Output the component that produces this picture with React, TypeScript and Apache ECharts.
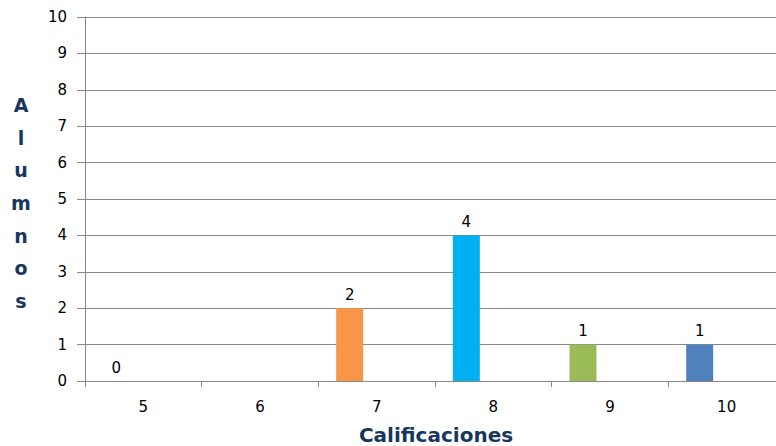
import React, { useEffect, useRef } from "react";
import * as echarts from "echarts";

const categories = ["5", "6", "7", "8", "9", "10"];
const alumnos: (number | null)[] = [0, null, 2, 4, 1, 1];
const barColors = ["#4F81BD", "#C0504D", "#F79646", "#00B0F0", "#9BBB59", "#4F81BD"];
const yTicks = { min: 0, max: 10, interval: 1 };
const xTitle = "Calificaciones";
const yTitle = "Alumnos";

export default function App() {
  const ref = useRef<HTMLDivElement>(null);
  useEffect(() => {
    document.body.style.margin = "0";
    const chart = echarts.init(ref.current!, null, { renderer: "svg" });
    const font = "'DejaVu Sans', Verdana, sans-serif";
    const grey = "#888888";
    const title = "#17375E";
    chart.setOption({
      animation: false,
      grid: { left: 85, top: 17, width: 700, height: 364, containLabel: false },
      xAxis: {
        type: "category",
        data: categories,
        axisLine: { show: true, lineStyle: { color: grey, width: 1 } },
        axisTick: { show: true, length: 6, alignWithLabel: false, lineStyle: { color: grey } },
        axisLabel: { margin: 18, fontSize: 15, color: "#000", fontFamily: font },
        splitLine: { show: false },
      },
      yAxis: {
        type: "value",
        min: yTicks.min,
        max: yTicks.max,
        interval: yTicks.interval,
        axisLine: { show: true, lineStyle: { color: grey, width: 1 } },
        axisTick: { show: true, length: 8, lineStyle: { color: grey } },
        axisLabel: { margin: 18, fontSize: 15, color: "#000", fontFamily: font },
        splitLine: { show: true, lineStyle: { color: grey, width: 1 } },
      },
      series: [
        {
          type: "bar",
          barWidth: 27,
          barGap: "0%",
          data: alumnos.map((v, i) =>
            v === null ? "-" : { value: v, itemStyle: { color: barColors[i] } }
          ),
          label: {
            show: true,
            position: "top",
            distance: 6,
            fontSize: 15,
            color: "#000",
            fontFamily: font,
          },
        },
        { type: "bar", barWidth: 27, barGap: "0%", data: categories.map(() => "-") },
        { type: "bar", barWidth: 27, barGap: "0%", data: categories.map(() => "-") },
      ],
      graphic: [
        {
          type: "text",
          x: 436,
          y: 435,
          style: {
            text: xTitle,
            font: `bold 20px ${font}`,
            fill: title,
            align: "center",
            verticalAlign: "middle",
          },
        },
        {
          type: "text",
          x: 21,
          y: 203,
          style: {
            text: yTitle.split("").join("\n"),
            font: `bold 19px ${font}`,
            lineHeight: 32.7,
            fill: title,
            align: "center",
            verticalAlign: "middle",
          },
        },
      ],
    });
    return () => chart.dispose();
  }, []);
  return (
    <div style={{ width: 776, height: 446, overflow: "hidden" }}>
      <div ref={ref} style={{ width: 786, height: 446 }} />
    </div>
  );
}
